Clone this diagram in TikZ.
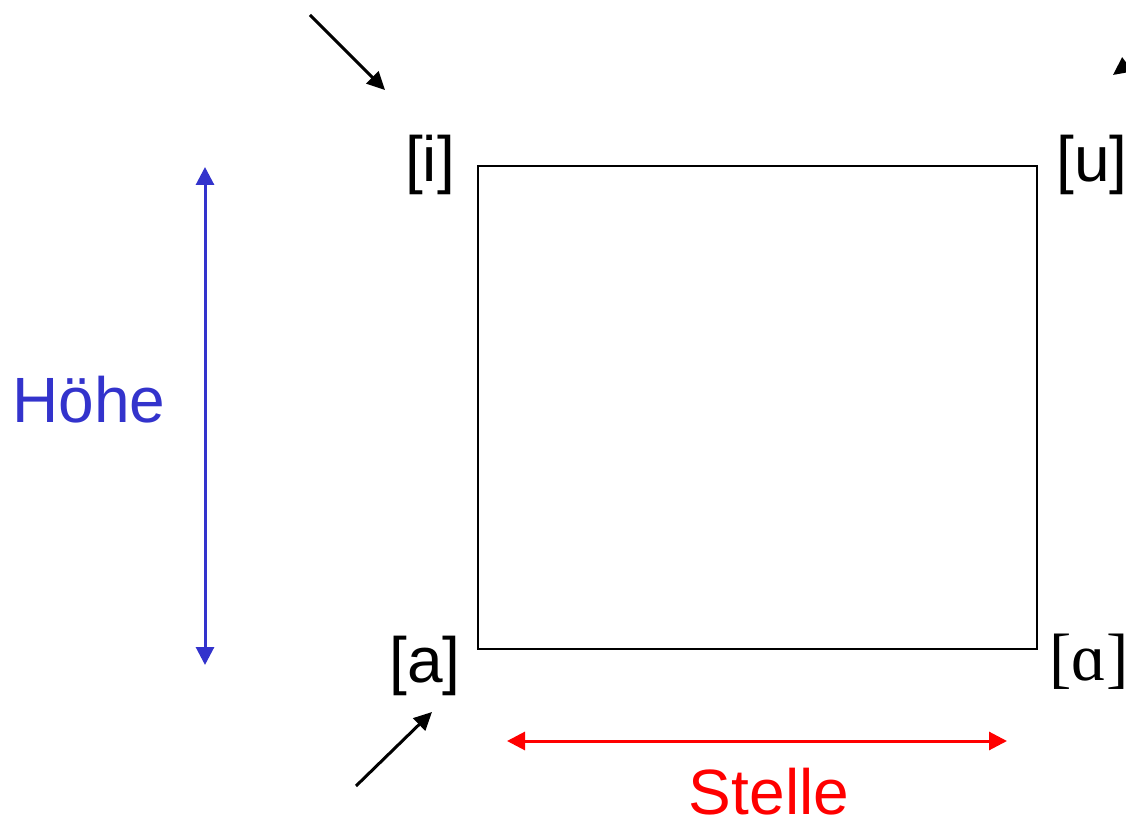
\documentclass[tikz,border=0pt]{standalone}
\usepackage{fontspec}
\setmainfont{Liberation Sans}
\newfontfamily\ipafont{Liberation Serif}
\usetikzlibrary{arrows.meta}
\definecolor{colHeight}{HTML}{3333cc}
\definecolor{colPlace}{HTML}{ff0000}
\tikzset{
  vowel/.style={anchor=base, font=\fontsize{32}{38}\selectfont, inner sep=0pt},
  dimlabel/.style={anchor=base, font=\fontsize{32}{38}\selectfont, inner sep=0pt},
  pointer/.style={line width=1.5pt, -{Triangle[length=9pt, width=8.5pt]}},
  dimarrow/.style={line width=1.5pt, {Triangle[length=9pt, width=9pt]}-{Triangle[length=9pt, width=9pt]}}
}
\begin{document}
\begin{tikzpicture}[x=0.5pt, y=0.5pt]
    \useasboundingbox (0,0) rectangle (1126,821);
    \clip (0,0) rectangle (1126,821);
    % vowel space
    \node[draw, line width=1pt, minimum width=279.5pt, minimum height=241.5pt, inner sep=0pt, anchor=south west] (box) at (477,171) {};
    % corner vowels
    \node[vowel] (vi) at (430, 639) {[i]};
    \node[vowel] (vu) at (1092, 639) {[u]};
    \node[vowel] (va) at (425, 139) {[a]};
    \node[vowel] (vaa) at (1089, 141) {\fontsize{33.5}{40}\ipafont [ɑ]};
    % Hoehe
    \coordinate (htop) at (205, 654);
    \coordinate (hbot) at (205, 156);
    \draw[dimarrow, colHeight] (hbot) -- (htop);
    \node[dimlabel, text=colHeight] (hoehe) at (89, 399) {Höhe};
    % Stelle
    \coordinate (sleft) at (507, 80);
    \coordinate (sright) at (1007, 80);
    \draw[dimarrow, colPlace] (sleft) -- (sright);
    \node[dimlabel, text=colPlace] (stelle) at (769, 7) {Stelle};
    % pointers
    \coordinate (ptl) at (310, 806);
    \coordinate (ptltip) at (385, 731);
    \coordinate (ptr) at (1160, 781);
    \coordinate (ptrtip) at (1113, 746);
    \coordinate (pbl) at (356, 35);
    \coordinate (pbltip) at (432, 109);
    \draw[pointer] (ptl) -- (ptltip);
    \draw[pointer] (ptr) -- (ptrtip);
    \draw[pointer] (pbl) -- (pbltip);
\end{tikzpicture}
\end{document}
